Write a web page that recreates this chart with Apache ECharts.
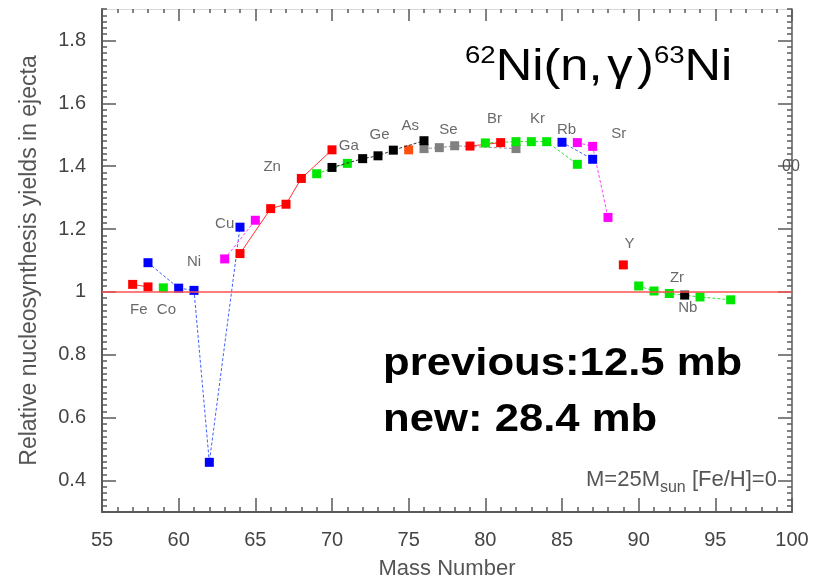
<!DOCTYPE html>
<html>
<head>
<meta charset="utf-8">
<script src="https://cdn.jsdelivr.net/npm/echarts@6/dist/echarts.min.js"></script>
<style>html,body{margin:0;padding:0;background:#fff}#c{width:817px;height:580px}</style>
</head>
<body>
<div id="c"></div>
<script>
// ---- data (mass number, relative yield) ----
const xTicks = [55, 60, 65, 70, 75, 80, 85, 90, 95, 100];
const yTicks = [0.4, 0.6, 0.8, 1.0, 1.2, 1.4, 1.6, 1.8];
const Fe = [[57, 1.024], [58, 1.016]];
const Co = [[59, 1.013]];
const Ni = [[58, 1.093], [60, 1.012], [61, 1.005], [62, 0.458], [64, 1.206]];
const Cu = [[63, 1.105], [65, 1.228]];
const Zn = [[64, 1.122], [66, 1.265], [67, 1.279], [68, 1.361], [70, 1.452]];
const Ga = [[69, 1.376], [71, 1.409]];
const Ge = [[70, 1.396], [72, 1.424], [73, 1.433], [74, 1.451], [76, 1.481]];
const As = [[75, 1.452]];
const Se = [[76, 1.456], [77, 1.459], [78, 1.465], [82, 1.456]];
const Br = [[79, 1.464], [81, 1.475]];
const Kr = [[80, 1.474], [82, 1.478], [83, 1.478], [84, 1.478], [86, 1.406]];
const Rb = [[85, 1.476], [87, 1.422]];
const Sr = [[86, 1.475], [87, 1.463], [88, 1.237]];
const Y = [[89, 1.086]];
const Zr = [[90, 1.019], [91, 1.003], [92, 0.995], [94, 0.984], [96, 0.975]];
const Nb = [[93, 0.99]];
const elementLabels = [
  ['Fe', 57.4, 0.944], ['Co', 59.2, 0.944], ['Ni', 61.0, 1.097], ['Cu', 63.0, 1.217],
  ['Zn', 66.1, 1.399], ['Ga', 71.1, 1.466], ['Ge', 73.1, 1.500], ['As', 75.1, 1.528],
  ['Se', 77.6, 1.516], ['Br', 80.6, 1.549], ['Kr', 83.4, 1.549], ['Rb', 85.3, 1.516],
  ['Sr', 88.7, 1.503], ['Y', 89.4, 1.153], ['Zr', 92.5, 1.046], ['Nb', 93.2, 0.949]
];
const refLine = 1.0;

const FONT = '"Liberation Sans", Arial, sans-serif';
const AX = '#5a5a5a';

function mk(name, data, color, lineColor, style, z) {
  return {
    name, type: 'line', data, symbol: 'rect', symbolSize: 9,
    itemStyle: { color },
    lineStyle: { color: lineColor, width: 1, type: style },
    z: z || 3, animation: false, showSymbol: true
  };
}
const DASH = [3, 2];
const series = [
  mk('Fe', Fe, '#ff0000', '#ff3030', 'solid'),
  mk('Co', Co, '#00e800', '#00e800', 'solid'),
  mk('Ni', Ni, '#0000ff', '#4060ff', DASH),
  mk('Cu', Cu, '#ff00ff', '#ff40ff', DASH),
  mk('Zn', Zn, '#ff0000', '#ff3030', 'solid'),
  mk('Ga', Ga, '#00e800', '#30e030', DASH),
  mk('Se', Se, '#808080', '#909090', DASH, 3),
  mk('Ge', Ge, '#000000', '#303030', DASH, 4),
  mk('As', As, '#ff5010', '#ff5010', 'solid'),
  mk('Br', Br, '#ff0000', '#ff3030', 'solid'),
  mk('Kr', Kr, '#00e800', '#30e030', DASH),
  mk('Rb', Rb, '#0000ff', '#4060ff', DASH),
  mk('Sr', Sr, '#ff00ff', '#ff40ff', DASH),
  mk('Y', Y, '#ff0000', '#ff0000', 'solid'),
  mk('Zr', Zr, '#00e800', '#30e030', DASH),
  mk('Nb', Nb, '#000000', '#000000', 'solid', 4)
];
series[0].markLine = {
  silent: true, symbol: 'none', animation: false,
  label: { show: false },
  lineStyle: { color: '#ff5050', width: 1.5, type: 'solid' },
  data: [{ yAxis: refLine }]
};
series.push({
  type: 'scatter', symbolSize: 0, z: 5, animation: false,
  data: elementLabels.map(d => ({ name: d[0], value: [d[1], d[2]] })),
  label: { show: true, position: 'inside', formatter: p => p.name, fontSize: 15, color: '#444', fontFamily: FONT }
});

const chart = echarts.init(document.getElementById('c'), null, { renderer: 'canvas' });
const xBase = { type: 'value', min: 55, max: 100, interval: 5, splitLine: { show: false } };
const yBase = { type: 'value', min: 0.3, max: 1.9, splitLine: { show: false } };

chart.setOption({
  animation: false,
  backgroundColor: '#fff',
  grid: { left: 102, right: 25, top: 9, bottom: 68, containLabel: false, outerBoundsMode: 'none' },
  xAxis: [
    Object.assign({}, xBase, {
      position: 'bottom',
      name: 'Mass Number', nameLocation: 'middle', nameGap: 46,
      nameTextStyle: { fontSize: 22, color: '#555', fontFamily: FONT },
      axisLine: { show: true, onZero: false, lineStyle: { color: AX, width: 2 } },
      axisTick: { show: true, inside: true, length: 14, lineStyle: { color: AX, width: 1.5 } },
      minorTick: { show: true, splitNumber: 5, length: 5, lineStyle: { color: AX, width: 1.5 } },
      axisLabel: { fontSize: 20, color: '#444', margin: 18, fontFamily: FONT, customValues: xTicks }
    }),
    Object.assign({}, xBase, {
      position: 'top',
      axisLine: { show: true, onZero: false, lineStyle: { color: '#d8d8d8', width: 1 } },
      axisTick: { show: true, inside: true, length: 12, lineStyle: { color: AX, width: 1.5 } },
      minorTick: { show: true, splitNumber: 5, length: 4, lineStyle: { color: AX, width: 1.5 } },
      axisLabel: { show: false }
    })
  ],
  yAxis: [
    Object.assign({}, yBase, {
      position: 'left', interval: 0.1,
      name: 'Relative nucleosynthesis yields in ejecta', nameLocation: 'middle', nameGap: 61,
      nameTextStyle: { fontSize: 23, color: '#555', fontFamily: FONT },
      axisLine: { show: true, onZero: false, lineStyle: { color: AX, width: 2 } },
      axisTick: { show: true, inside: true, length: 14, customValues: yTicks, lineStyle: { color: AX, width: 1.5 } },
      axisLabel: { fontSize: 20, color: '#444', margin: 16, fontFamily: FONT, customValues: yTicks,
        formatter: v => String(+(+v).toFixed(1)) }
    }),
    Object.assign({}, yBase, {
      position: 'left', interval: 0.02,
      axisLine: { show: false },
      axisTick: { show: true, inside: true, length: 5, lineStyle: { color: AX, width: 1.5 } },
      axisLabel: { show: false }
    }),
    Object.assign({}, yBase, {
      position: 'right', interval: 0.1,
      axisLine: { show: true, onZero: false, lineStyle: { color: AX, width: 1.5 } },
      axisTick: { show: true, inside: true, length: 14, customValues: yTicks, lineStyle: { color: AX, width: 1.5 } },
      axisLabel: { show: false }
    }),
    Object.assign({}, yBase, {
      position: 'right', interval: 0.02,
      axisLine: { show: false },
      axisTick: { show: true, inside: true, length: 5, lineStyle: { color: AX, width: 1.5 } },
      axisLabel: { show: false }
    })
  ],
  series,
  graphic: [
    {
      type: 'text', left: 465, top: 44, z: 10, scaleX: 1.15, originX: 0,
      style: {
        text: '{s|62}{b|Ni(n,}{g|γ}{b|)}{s|63}{b|Ni}',
        fill: '#000', font: '44px ' + FONT,
        rich: {
          s: { fontSize: 24, fontFamily: FONT, fill: '#000', verticalAlign: 'bottom', lineHeight: 24, padding: [0, 0, 22, 0] },
          b: { fontSize: 44, fontFamily: FONT, fill: '#000', verticalAlign: 'bottom', lineHeight: 46 },
          g: { fontSize: 44, fontFamily: FONT, fill: '#000', verticalAlign: 'bottom', lineHeight: 46, padding: [0, 4, 0, 4] }
        }
      }
    },
    {
      type: 'text', left: 383, top: 345, z: 10, scaleX: 1.12, originX: 0,
      style: { text: 'previous:12.5 mb', font: 'bold 39px ' + FONT, fill: '#000' }
    },
    {
      type: 'text', left: 383, top: 401, z: 10, scaleX: 1.12, originX: 0,
      style: { text: 'new: 28.4 mb', font: 'bold 39px ' + FONT, fill: '#000' }
    },
    {
      type: 'text', left: 586, top: 469, z: 10,
      style: {
        text: '{t|M=25M}{u|sun}{t| [Fe/H]=0}',
        rich: {
          t: { fontSize: 22, fontFamily: FONT, fill: '#555', verticalAlign: 'bottom', lineHeight: 22, padding: [0, 0, 5, 0] },
          u: { fontSize: 16, fontFamily: FONT, fill: '#555', verticalAlign: 'bottom', lineHeight: 17 }
        }
      }
    },
    {
      type: 'text', left: 782, top: 159, z: 10,
      style: { text: '00', font: '16px ' + FONT, fill: '#555' }
    }
  ]
});
</script>
</body>
</html>
